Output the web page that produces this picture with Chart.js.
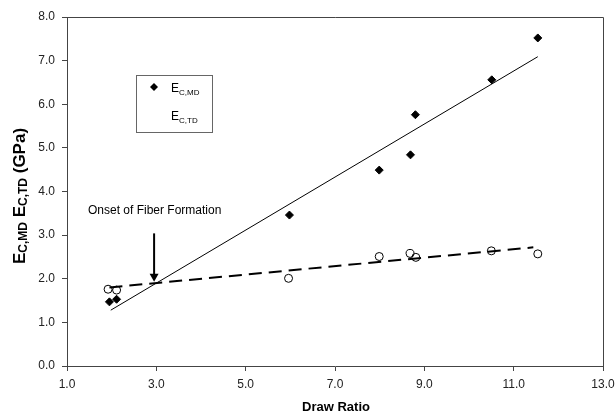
<!DOCTYPE html>
<html>
<head>
<meta charset="utf-8">
<script src="https://cdn.jsdelivr.net/npm/chart.js@4/dist/chart.umd.min.js"></script>
<style>
  html, body { margin: 0; padding: 0; background: #fff; }
  #wrap { width: 616px; height: 416px; position: relative; }
</style>
</head>
<body>
<div id="wrap"><canvas id="chart"></canvas></div>
<script>
// data
var mdX = [1.95, 2.11, 5.98, 7.99, 8.69, 8.80, 10.51, 11.54];
var mdY = [1.47, 1.53, 3.46, 4.49, 4.84, 5.76, 6.56, 7.52];
var tdX = [1.92, 2.11, 5.96, 7.99, 8.68, 8.81, 10.50, 11.54];
var tdY = [1.76, 1.74, 2.01, 2.51, 2.58, 2.49, 2.64, 2.57];
// fitted lines (end points)
var mdFitX = [1.98, 11.54];
var mdFitY = [1.28, 7.09];
var tdFitX = [1.95, 11.44];
var tdFitY = [1.80, 2.72];
// arrow + note
var arrowX = 2.95;
var arrowTop = 3.04;
var arrowTip = 1.93;
var noteText = 'Onset of Fiber Formation';
var xTitle = 'Draw Ratio';

function pts(xs, ys) {
    return xs.map(function (x, i) { return { x: x, y: ys[i] }; });
}

var FONT = "'Liberation Sans', Arial, sans-serif";
var INK = '#000';
var AXIS = '#444';

// draws text pieces with subscripts, left to right from (x, y) baseline
function drawRich(ctx, parts, x, y) {
    parts.forEach(function (p) {
        ctx.font = p.font;
        ctx.fillText(p.text, x, y + (p.dy || 0));
        x += ctx.measureText(p.text).width;
    });
}
function richWidth(ctx, parts) {
    var w = 0;
    parts.forEach(function (p) {
        ctx.font = p.font;
        w += ctx.measureText(p.text).width;
    });
    return w;
}

var extras = {
    id: 'extras',
    afterDraw: function (chart) {
        var ctx = chart.ctx;
        var a = chart.chartArea;
        var xs = chart.scales.x, ys = chart.scales.y;
        ctx.save();

        // top and right frame
        ctx.strokeStyle = AXIS;
        ctx.lineWidth = 1;
        ctx.beginPath();
        ctx.moveTo(a.left, a.top + 0.5);
        ctx.lineTo(a.right + 0.5, a.top + 0.5);
        ctx.lineTo(a.right + 0.5, a.bottom);
        ctx.stroke();

        // arrow
        var ax = xs.getPixelForValue(arrowX);
        var ay1 = ys.getPixelForValue(arrowTop);
        var ay2 = ys.getPixelForValue(arrowTip);
        ctx.strokeStyle = INK;
        ctx.fillStyle = INK;
        ctx.lineWidth = 2;
        ctx.beginPath();
        ctx.moveTo(ax, ay1);
        ctx.lineTo(ax, ay2 - 6);
        ctx.stroke();
        ctx.beginPath();
        ctx.moveTo(ax - 4.5, ay2 - 8);
        ctx.lineTo(ax + 4.5, ay2 - 8);
        ctx.lineTo(ax, ay2);
        ctx.closePath();
        ctx.fill();

        // note
        ctx.font = '12px ' + FONT;
        ctx.textAlign = 'left';
        ctx.textBaseline = 'alphabetic';
        ctx.fillText(noteText, 88, 214);

        // legend box
        ctx.strokeStyle = '#666';
        ctx.lineWidth = 1;
        ctx.strokeRect(136.5, 75.5, 76, 57);
        ctx.beginPath();
        ctx.moveTo(154, 83);
        ctx.lineTo(158, 87);
        ctx.lineTo(154, 91);
        ctx.lineTo(150, 87);
        ctx.closePath();
        ctx.fillStyle = INK;
        ctx.fill();
        drawRich(ctx, [
            { text: 'E', font: '12px ' + FONT },
            { text: 'C,MD', font: '8px ' + FONT, dy: 3 }
        ], 171, 92);
        drawRich(ctx, [
            { text: 'E', font: '12px ' + FONT },
            { text: 'C,TD', font: '8px ' + FONT, dy: 3 }
        ], 171, 120);

        // x title
        ctx.font = 'bold 13px ' + FONT;
        ctx.textAlign = 'center';
        ctx.fillText(xTitle, 336, 411);

        // y title
        var yParts = [
            { text: 'E', font: 'bold 17px ' + FONT },
            { text: 'C,MD', font: 'bold 12px ' + FONT, dy: 2 },
            { text: ' E', font: 'bold 17px ' + FONT },
            { text: 'C,TD', font: 'bold 12px ' + FONT, dy: 2 },
            { text: ' (GPa)', font: 'bold 17px ' + FONT }
        ];
        ctx.textAlign = 'left';
        ctx.translate(25, 196);
        ctx.rotate(-Math.PI / 2);
        drawRich(ctx, yParts, -richWidth(ctx, yParts) / 2, 0);

        ctx.restore();
    }
};

var tickFont = { family: FONT, size: 12 };

new Chart(document.getElementById('chart'), {
    type: 'scatter',
    data: {
        datasets: [{
            label: 'E C,MD',
            data: pts(mdX, mdY),
            pointStyle: 'rectRot',
            pointRadius: 4,
            pointBackgroundColor: INK,
            pointBorderColor: INK,
            pointBorderWidth: 1
        }, {
            label: 'E C,TD',
            data: pts(tdX, tdY),
            pointStyle: 'circle',
            pointRadius: 4,
            pointBackgroundColor: 'transparent',
            pointBorderColor: INK,
            pointBorderWidth: 1
        }, {
            label: 'MD fit',
            data: pts(mdFitX, mdFitY),
            showLine: true,
            borderColor: INK,
            borderWidth: 1,
            pointRadius: 0
        }, {
            label: 'TD fit',
            data: pts(tdFitX, tdFitY),
            showLine: true,
            borderColor: INK,
            borderWidth: 2,
            borderDash: [13, 7],
            pointRadius: 0
        }]
    },
    options: {
        responsive: true,
        maintainAspectRatio: false,
        animation: false,
        layout: { padding: { left: 0, top: 17, right: 13, bottom: 0 } },
        plugins: {
            legend: { display: false },
            tooltip: { enabled: false }
        },
        scales: {
            x: {
                type: 'linear',
                min: 1, max: 13,
                afterFit: function (s) {
                    s.height = 50;
                    s.paddingLeft = 0;
                    s.paddingRight = 0;
                },
                ticks: {
                    stepSize: 2,
                    padding: 6,
                    color: '#222',
                    font: tickFont,
                    maxRotation: 0,
                    callback: function (v) { return v.toFixed(1); }
                },
                grid: { drawOnChartArea: false, tickLength: 5, color: AXIS },
                border: { color: AXIS, width: 1 }
            },
            y: {
                type: 'linear',
                min: 0, max: 8,
                afterFit: function (s) {
                    s.width = 67;
                    s.paddingTop = 0;
                    s.paddingBottom = 0;
                },
                ticks: {
                    stepSize: 1,
                    padding: 7,
                    color: '#222',
                    font: tickFont,
                    callback: function (v) { return v.toFixed(1); }
                },
                grid: { drawOnChartArea: false, tickLength: 5, color: AXIS },
                border: { color: AXIS, width: 1 }
            }
        }
    },
    plugins: [extras]
});
</script>
</body>
</html>
